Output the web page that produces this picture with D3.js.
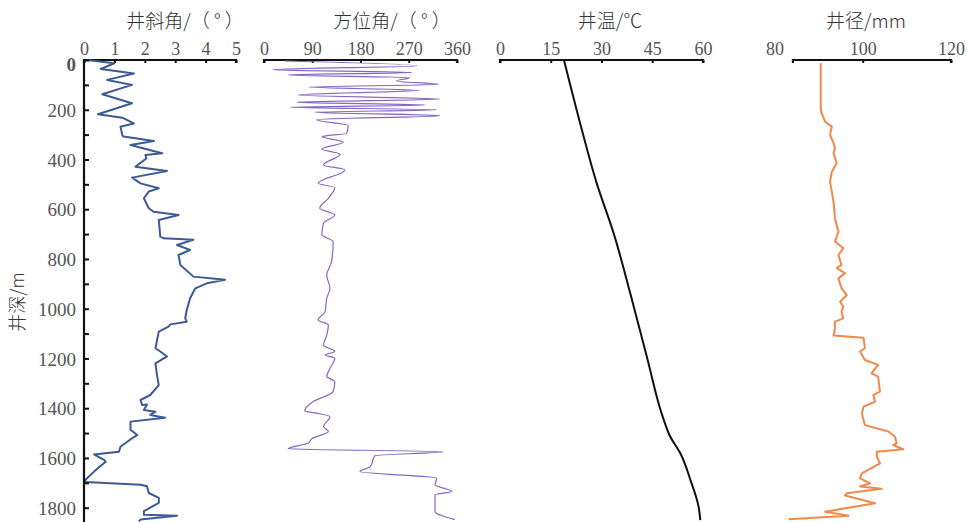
<!DOCTYPE html>
<html>
<head>
<meta charset="utf-8">
<script src="https://cdn.jsdelivr.net/npm/d3@7"></script>
<style>
  body { margin: 0; background: #fff; }
  #svg-container { width: 967px; height: 522px; }
  .tick text { font-family: "Liberation Serif", "DejaVu Serif", serif; fill: #555; }
  .title { font-family: "Noto Sans CJK SC", sans-serif; font-weight: 300; fill: #333; font-size: 19px; }
</style>
</head>
<body>
<div id="svg-container"></div>
<script>
// depth (m) and readings for each log track
var incDepth = [0, 13, 36, 54, 80, 100, 138, 174, 218, 232, 255, 268, 302, 308, 326, 342, 375, 382, 396, 429, 446, 473, 496, 516, 529, 556, 596, 610, 623, 643, 710, 717, 723, 744, 764, 784, 824, 871, 884, 898, 918, 958, 1005, 1039, 1052, 1063, 1072, 1092, 1159, 1172, 1192, 1220, 1267, 1307, 1347, 1367, 1387, 1385, 1407, 1414, 1427, 1438, 1454, 1487, 1508, 1521, 1555, 1575, 1586, 1608, 1615, 1655, 1688, 1697, 1708, 1714, 1741, 1761, 1781, 1814, 1828, 1832, 1848, 1855];
var incValue = [0.1, 1.0, 0.55, 1.64, 0.76, 1.58, 0.6, 1.58, 0.46, 1.26, 1.64, 1.2, 1.26, 1.3, 2.3, 1.53, 2.57, 2.02, 2.05, 1.69, 2.73, 1.58, 1.86, 2.46, 2.13, 1.97, 2.13, 2.29, 3.11, 2.46, 2.51, 2.62, 3.6, 3.06, 3.49, 3.11, 3.17, 3.6, 4.64, 4.04, 3.66, 3.49, 3.38, 3.33, 3.38, 2.84, 2.78, 2.46, 2.35, 2.51, 2.73, 2.35, 2.4, 2.46, 2.18, 1.86, 1.91, 2.07, 1.97, 2.35, 2.18, 2.67, 1.53, 1.53, 1.75, 1.58, 1.2, 1.15, 0.33, 0.66, 0.71, 0.33, 0.05, 0.05, 1.86, 2.07, 2.13, 2.46, 2.46, 1.97, 1.97, 3.06, 1.86, 1.8];

var aziDepth = [4, 23, 39, 50, 60, 71, 84, 98, 109, 122, 141, 157, 170, 181, 190, 200, 210, 224, 240, 264, 295, 308, 331, 358, 379, 422, 442, 496, 513, 556, 596, 623, 656, 703, 730, 811, 864, 918, 958, 1012, 1045, 1065, 1106, 1146, 1172, 1186, 1199, 1240, 1273, 1293, 1333, 1373, 1411, 1420, 1434, 1474, 1494, 1523, 1540, 1563, 1575, 1591, 1635, 1655, 1682, 1708, 1735, 1748, 1815, 1848];
var aziValue = [39, 285, 17, 276, 45, 272, 247, 325, 83, 291, 64, 328, 61, 300, 50, 322, 95, 328, 98, 157, 154, 108, 148, 108, 142, 111, 151, 101, 132, 120, 104, 132, 111, 108, 129, 126, 117, 123, 117, 114, 101, 120, 117, 111, 132, 114, 132, 123, 117, 132, 129, 92, 76, 98, 123, 111, 120, 89, 83, 45, 335, 207, 198, 179, 322, 319, 350, 319, 319, 356];

var tmpDepth = [0, 255, 496, 697, 938, 1193, 1447, 1514, 1581, 1689, 1796, 1850];
var tmpValue = [18.9, 23.7, 28.6, 33.6, 38.5, 43.4, 48.4, 50.3, 53.3, 56.3, 58.7, 59.2];

var calDepth = [13, 194, 214, 248, 268, 301, 335, 355, 375, 415, 449, 489, 529, 570, 636, 690, 730, 757, 784, 824, 837, 857, 878, 918, 945, 972, 992, 1012, 1039, 1052, 1079, 1108, 1117, 1159, 1172, 1206, 1226, 1260, 1273, 1333, 1347, 1374, 1394, 1421, 1468, 1494, 1514, 1541, 1548, 1565, 1575, 1595, 1622, 1662, 1682, 1702, 1715, 1724, 1742, 1751, 1782, 1799, 1816, 1832, 1847];
var calValue = [90.5, 90.5, 90.7, 91.5, 93.0, 92.6, 93.4, 93.7, 93.4, 94.1, 93.0, 92.6, 93.0, 93.4, 93.7, 94.5, 93.7, 95.6, 94.5, 95.2, 94.1, 96.0, 94.5, 95.2, 96.4, 94.9, 95.6, 95.2, 95.6, 93.7, 93.7, 93.4, 100.2, 100.5, 99.4, 100.5, 103.5, 102.0, 103.5, 103.9, 102.4, 102.8, 100.2, 99.8, 100.5, 105.8, 107.3, 107.7, 106.9, 109.2, 103.2, 103.2, 103.9, 99.8, 99.4, 101.7, 99.4, 104.3, 96.4, 96.0, 102.8, 97.1, 91.5, 96.8, 83.2];

var depthTicks = d3.range(0, 1900, 100);
var incTicks = [0, 1, 2, 3, 4, 5];
var aziTicks = [0, 90, 180, 270, 360];
var tmpTicks = [0, 15, 30, 45, 60];
var calTicks = [80, 100, 120];

var width = 967, height = 522;

var svg = d3.select("#svg-container")
            .append("svg")
            .attr("width", width)
            .attr("height", height);

var scaleY = d3.scaleLinear().domain([0, 1860]).range([60, 522.6]);

var tracks = [
  { title: "井斜角/（ ° ）", cx: 185, depth: incDepth, value: incValue, ticks: incTicks,
    scale: d3.scaleLinear().domain([0, 5]).range([84, 236]), start: 0, color: "#3d5a94", width: 2, curve: d3.curveLinear },
  { title: "方位角/（ ° ）", cx: 392, depth: aziDepth, value: aziValue, ticks: aziTicks,
    scale: d3.scaleLinear().domain([0, 360]).range([264, 457]), start: 0, color: "#8668c4", width: 1.2, curve: d3.curveMonotoneY },
  { title: "井温/℃", cx: 610, depth: tmpDepth, value: tmpValue, ticks: tmpTicks,
    scale: d3.scaleLinear().domain([0, 60]).range([500, 703]), start: 0, color: "#111", width: 2, curve: d3.curveMonotoneY },
  { title: "井径/mm", cx: 866, depth: calDepth, value: calValue, ticks: calTicks,
    scale: d3.scaleLinear().domain([80, 120]).range([774.4, 951]), start: 84.2, color: "#f08a4b", width: 2, curve: d3.curveLinear }
];

tracks.forEach(function(t) {
  var axis = d3.axisTop(t.scale)
               .tickValues(t.ticks)
               .tickFormat(function(d) { return d; })
               .tickSize(-3)
               .tickSizeOuter(0)
               .tickPadding(5);

  var g = svg.append("g")
             .attr("transform", "translate(0," + scaleY(0) + ")")
             .call(axis);

  g.select(".domain")
   .attr("d", "M" + t.scale(t.start) + ",3V0H" + t.scale(t.scale.domain()[1]) + "V3")
   .attr("stroke", "#111")
   .attr("stroke-width", 2.2)
   .attr("fill", "none");

  g.selectAll(".tick line")
   .attr("stroke", "#111")
   .attr("stroke-width", 2)
   .attr("display", function(d) { return d < t.start ? "none" : null; });

  g.selectAll(".tick text").attr("font-size", 18);

  svg.append("text")
     .attr("class", "title")
     .attr("x", t.cx)
     .attr("y", 28)
     .attr("text-anchor", "middle")
     .text(t.title);

  var line = d3.line()
               .x(function(d, i) { return t.scale(t.value[i]); })
               .y(function(d) { return scaleY(d); })
               .curve(t.curve);

  svg.append("path")
     .datum(t.depth)
     .attr("fill", "none")
     .attr("stroke", t.color)
     .attr("stroke-width", t.width)
     .attr("stroke-linejoin", "round")
     .attr("d", line);
});

// depth axis
var yAxis = d3.axisLeft(scaleY)
              .tickValues(depthTicks)
              .tickSize(-5)
              .tickSizeOuter(0)
              .tickPadding(8)
              .tickFormat(function(d) { return d % 200 === 0 ? d : ""; });

var gy = svg.append("g")
            .attr("transform", "translate(84,0)")
            .call(yAxis);

gy.select(".domain")
  .attr("d", "M0," + scaleY(0) + "V" + height)
  .attr("stroke", "#111")
  .attr("stroke-width", 2.2);

gy.selectAll(".tick line").attr("stroke", "#111").attr("stroke-width", 2);
gy.selectAll(".tick text").attr("font-size", 19).attr("dy", "0.35em");
gy.selectAll(".tick text").filter(function(d) { return d === 0; })
  .attr("font-weight", "bold").attr("fill", "#333").attr("dy", "0.55em");

svg.append("text")
   .attr("class", "title")
   .attr("transform", "translate(24," + 302 + ") rotate(-90)")
   .attr("text-anchor", "middle")
   .style("font-size", "18px")
   .text("井深/m");
</script>
</body>
</html>
